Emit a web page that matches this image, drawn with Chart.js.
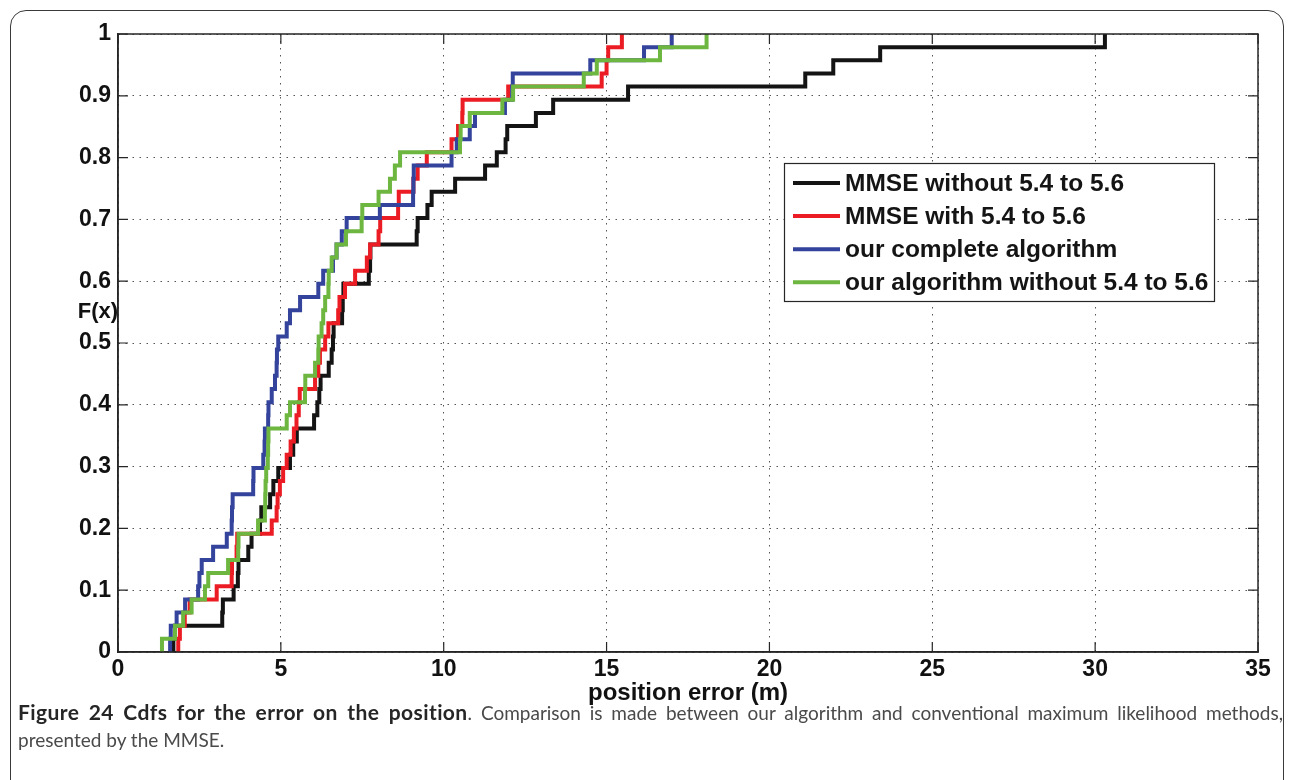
<!DOCTYPE html>
<html>
<head>
<meta charset="utf-8">
<title>Cdfs for the error on the position</title>
<script src="https://cdn.jsdelivr.net/npm/chart.js@4.4.1/dist/chart.umd.min.js"></script>
<style>
  html, body { margin: 0; padding: 0; background: #fff; width: 1293px; height: 780px; overflow: hidden; }
  #frame { position: absolute; left: 10px; top: 10px; width: 1274px; height: 800px;
           border: 1.5px solid #3a3a3a; border-radius: 16px; box-sizing: border-box; }
  #chartBox { position: absolute; left: 0; top: 0; width: 1293px; height: 720px; }
  #caption { position: absolute; left: 18px; top: 698px; width: 1265px;
             font-family: Lato, 'Open Sans', sans-serif; font-size: 19px; color: #4a4a4a; line-height: 27px; }
  #caption .l1 { white-space: nowrap; text-align: justify; text-align-last: justify; }
  #caption b { color: #262626; font-size: 21px; letter-spacing: 0.4px; }
</style>
</head>
<body>
<div id="frame"></div>
<div id="chartBox"><canvas id="c" width="1293" height="720"></canvas></div>
<div id="caption">
  <div class="l1"><b>Figure 24 Cdfs for the error on the position</b>. Comparison is made between our algorithm and conventional maximum likelihood methods,</div>
  <div>presented by the MMSE.</div>
</div>
<script>
// Sorted position errors (m) of the 47 test positions, one list per method.
const errMmseWithout = [
  1.70, 1.75, 3.20, 3.22, 3.55, 3.68, 3.70, 4.00, 4.10, 4.36,
  4.40, 4.67, 4.77, 4.92, 5.28, 5.38, 5.49, 6.02, 6.12, 6.18,
  6.22, 6.47, 6.56, 6.60, 6.62, 6.88, 6.90, 6.92, 7.70, 7.74,
  7.75, 9.17, 9.20, 9.50, 9.63, 10.35, 11.27, 11.63, 11.90, 11.95,
  12.83, 13.36, 15.66, 21.10, 21.96, 23.40, 30.30
];
const errMmseWith = [
  1.85, 1.90, 2.05, 2.20, 3.03, 3.49, 3.50, 3.64, 3.66, 4.72,
  4.87, 4.90, 4.97, 5.07, 5.18, 5.30, 5.40, 5.48, 5.55, 5.58,
  6.05, 6.15, 6.20, 6.36, 6.46, 6.76, 6.80, 6.97, 7.28, 7.64,
  7.74, 8.00, 8.05, 8.60, 8.62, 9.07, 9.20, 9.48, 10.24, 10.44,
  10.57, 10.58, 11.98, 14.85, 15.00, 15.05, 15.47
];
const errOurComplete = [
  1.60, 1.62, 1.80, 2.06, 2.46, 2.50, 2.57, 2.92, 3.34, 3.49,
  3.50, 3.52, 4.15, 4.16, 4.46, 4.50, 4.51, 4.61, 4.62, 4.72,
  4.82, 4.87, 4.88, 4.92, 5.18, 5.28, 5.59, 6.15, 6.30, 6.60,
  6.71, 6.87, 7.02, 8.04, 9.06, 9.07, 9.08, 10.24, 10.40, 10.80,
  10.96, 11.88, 12.10, 12.12, 14.50, 16.15, 17.00
];
const errOurWithout = [
  1.35, 1.75, 2.00, 2.26, 2.67, 2.77, 3.38, 3.69, 3.70, 4.30,
  4.51, 4.52, 4.53, 4.55, 4.60, 4.61, 4.62, 5.18, 5.28, 5.74,
  5.75, 6.05, 6.15, 6.16, 6.25, 6.30, 6.36, 6.46, 6.47, 6.56,
  6.71, 7.00, 7.48, 7.50, 8.00, 8.35, 8.50, 8.66, 10.50, 10.52,
  10.80, 11.80, 12.13, 14.30, 14.70, 16.64, 18.07
];

const seriesNames = [
  'MMSE without 5.4 to 5.6',
  'MMSE with 5.4 to 5.6',
  'our complete algorithm',
  'our algorithm without 5.4 to 5.6'
];
const seriesErrors = [errMmseWithout, errMmseWith, errOurComplete, errOurWithout];
const seriesColors = ['#141414', '#ec1c24', '#34439c', '#6db640'];

const xTickLabels = ['0', '5', '10', '15', '20', '25', '30', '35'];
const yTickLabels = ['0', '0.1', '0.2', '0.3', '0.4', '0.5', '0.6', '0.7', '0.8', '0.9', '1'];
const xAxisTitle = 'position error (m)';
const yAxisLabel = 'F(x)';

const FONT = "'Liberation Sans', Arial, Helvetica, sans-serif";

// Empirical CDF: start at 0 under the smallest error, then one step per sample.
function cdfPoints(errors) {
  const n = errors.length;
  const pts = [{ x: errors[0], y: 0 }];
  errors.forEach((e, i) => pts.push({ x: e, y: (i + 1) / n }));
  return pts;
}

// Closed axes box with inward tick marks on all four sides.
const boxPlugin = {
  id: 'axesBox',
  afterDatasetsDraw(chart) {
    const { ctx, chartArea: a, scales } = chart;
    ctx.save();
    ctx.strokeStyle = '#262626';
    ctx.lineWidth = 1.5;
    ctx.strokeRect(a.left, a.top, a.right - a.left, a.bottom - a.top);
    ctx.lineWidth = 1.2;
    const len = 10;
    ctx.beginPath();
    scales.x.ticks.forEach(t => {
      const px = scales.x.getPixelForValue(t.value);
      ctx.moveTo(px, a.bottom); ctx.lineTo(px, a.bottom - len);
      ctx.moveTo(px, a.top); ctx.lineTo(px, a.top + len);
    });
    scales.y.ticks.forEach(t => {
      const py = scales.y.getPixelForValue(t.value);
      ctx.moveTo(a.left, py); ctx.lineTo(a.left + len, py);
      ctx.moveTo(a.right, py); ctx.lineTo(a.right - len, py);
    });
    ctx.stroke();
    ctx.restore();
  }
};

// Horizontal "F(x)" axis label and the boxed legend inside the plot.
const labelsPlugin = {
  id: 'labelsAndLegend',
  afterDraw(chart) {
    const { ctx, chartArea: a, scales } = chart;
    ctx.save();
    ctx.fillStyle = '#111';
    ctx.font = 'bold 22px ' + FONT;
    ctx.textAlign = 'center';
    ctx.textBaseline = 'middle';
    ctx.fillText(yAxisLabel, a.left - 20, scales.y.getPixelForValue(0.55));

    const boxW = 430, boxH = 138;
    const bx = a.right - 44 - boxW, by = a.top + 129;
    ctx.fillStyle = '#fff';
    ctx.fillRect(bx, by, boxW, boxH);
    ctx.strokeStyle = '#262626';
    ctx.lineWidth = 1.2;
    ctx.strokeRect(bx + 0.5, by + 0.5, boxW, boxH);
    ctx.font = 'bold 24.5px ' + FONT;
    ctx.textAlign = 'left';
    seriesNames.forEach((name, i) => {
      const ry = by + 20 + i * 33.1;
      ctx.strokeStyle = seriesColors[i];
      ctx.lineWidth = 4;
      ctx.lineCap = 'butt';
      ctx.beginPath();
      ctx.moveTo(bx + 9, ry); ctx.lineTo(bx + 56, ry);
      ctx.stroke();
      ctx.fillStyle = '#141414';
      ctx.fillText(name, bx + 61, ry + 1);
    });
    ctx.restore();
  }
};

const datasets = seriesErrors.map((errs, i) => ({
  label: seriesNames[i],
  data: cdfPoints(errs),
  borderColor: seriesColors[i],
  backgroundColor: seriesColors[i],
  borderWidth: 4,
  stepped: 'before',
  fill: false,
  pointRadius: 0,
  borderJoinStyle: 'miter',
  borderCapStyle: 'butt',
  order: seriesErrors.length - 1 - i
}));

new Chart(document.getElementById('c'), {
  type: 'line',
  data: { datasets },
  options: {
    responsive: false,
    animation: false,
    events: [],
    layout: { padding: { left: 0, top: 34, right: 35, bottom: 12 } },
    plugins: { legend: { display: false }, tooltip: { enabled: false } },
    scales: {
      x: {
        type: 'linear', min: 0, max: 35,
        afterFit: s => { s.height = 56; },
        ticks: {
          stepSize: 5, autoSkip: false, maxRotation: 0, padding: 3.5,
          color: '#111', font: { family: FONT, size: 23, weight: 'bold' },
          callback: (v, i) => xTickLabels[i]
        },
        grid: { color: '#555', lineWidth: 1, drawTicks: false },
        border: { display: true, color: '#262626', width: 1.5, dash: [1.5, 5.5] },
        title: {
          display: true, text: xAxisTitle, color: '#111',
          font: { family: FONT, size: 24, weight: 'bold' }, padding: { top: 0, bottom: 0 }
        }
      },
      y: {
        type: 'linear', min: 0, max: 1,
        afterFit: s => { s.width = 118; },
        ticks: {
          stepSize: 0.1, autoSkip: false, padding: 7,
          color: '#111', font: { family: FONT, size: 23, weight: 'bold' },
          callback: (v, i) => yTickLabels[i]
        },
        grid: { color: '#555', lineWidth: 1, drawTicks: false },
        border: { display: true, color: '#262626', width: 1.5, dash: [1.5, 5.5] }
      }
    }
  },
  plugins: [boxPlugin, labelsPlugin]
});
</script>
</body>
</html>
